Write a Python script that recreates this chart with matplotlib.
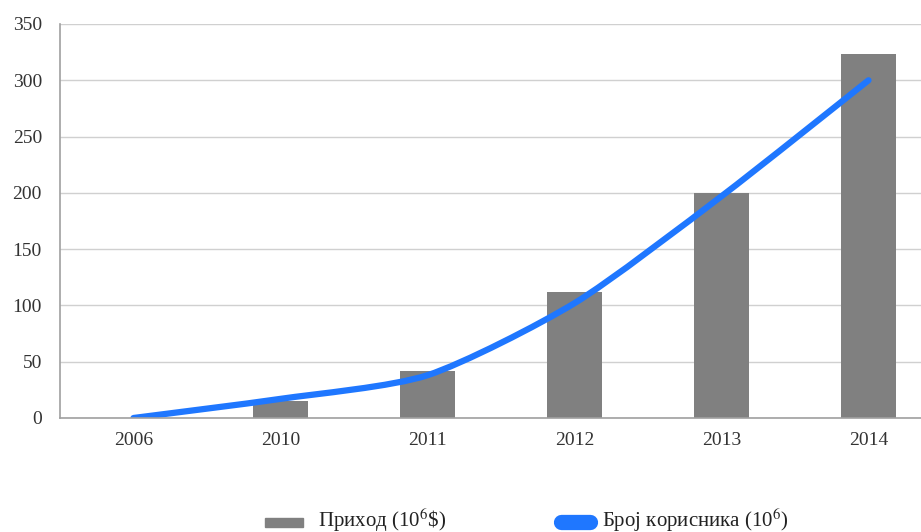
import numpy as np
import matplotlib.pyplot as plt
from matplotlib.path import Path
from matplotlib.patches import PathPatch, Rectangle
from matplotlib.lines import Line2D

plt.rcParams["font.family"] = ["Liberation Serif", "DejaVu Serif"]
plt.rcParams["mathtext.fontset"] = "stix"

# ─── Data ─────────────────────────────────────────────────────────────────────
years   = ["2006", "2010", "2011", "2012", "2013", "2014"]
revenue = [0, 15, 42, 112, 200, 323]      # Приход (10^6 $)
users   = [0, 17, 38, 102, 197, 300]      # Број корисника (10^6)

BAR_COLOR  = "#808080"
LINE_COLOR = "#1f77ff"
TEXT_COLOR = "#333333"

fig = plt.figure(figsize=(9.21, 5.32), dpi=100)
ax  = fig.add_axes([60 / 921, 114 / 532, 882 / 921, 394 / 532])

x = np.arange(len(years))
ax.bar(x, revenue, width=0.37, color=BAR_COLOR, zorder=2)

# smooth curve through the user counts (cubic Bezier, Catmull-Rom tangents)
pts = np.column_stack([x, users]).astype(float)
verts, codes = [pts[0]], [Path.MOVETO]
for i in range(len(pts) - 1):
    p0 = pts[max(i - 1, 0)]
    p1, p2 = pts[i], pts[i + 1]
    p3 = pts[min(i + 2, len(pts) - 1)]
    t = 0.12
    c1 = p1 + (p2 - p0) * t
    c2 = p2 - (p3 - p1) * t
    verts += [c1, c2, p2]
    codes += [Path.CURVE4] * 3
curve = PathPatch(Path(verts, codes), facecolor="none", edgecolor=LINE_COLOR,
                  lw=4.5, capstyle="round", joinstyle="round", zorder=3)
ax.add_patch(curve)

ax.set_xlim(-0.5, len(years) - 0.5)
ax.set_ylim(0, 350)
ax.set_yticks(range(0, 351, 50))
ax.set_xticks(x)
ax.set_xticklabels(years)
ax.tick_params(length=0, labelsize=14, colors=TEXT_COLOR)
ax.tick_params(axis="x", pad=10)
ax.tick_params(axis="y", pad=13)
ax.grid(axis="y", color="#d0d0d0", lw=1, zorder=0)
for side in ["top", "right"]:
    ax.spines[side].set_visible(False)
for side in ["left", "bottom"]:
    ax.spines[side].set_color("#a0a0a0")
    ax.spines[side].set_linewidth(1.2)
ax.spines["bottom"].set_zorder(4)

# ─── Legend ───────────────────────────────────────────────────────────────────
W, H = 921, 532
fig.patches.append(Rectangle((265 / W, 1 - 527 / H), 38 / W, 9 / H,
                             transform=fig.transFigure, color=BAR_COLOR))
fig.text(318 / W, 1 - 520 / H, r"Приход (10$^6$\$)", fontsize=15,
         va="center", ha="left", color="#222222")
fig.lines.append(Line2D([561 / W, 590 / W], [1 - 522 / H, 1 - 522 / H],
                        transform=fig.transFigure, color=LINE_COLOR,
                        lw=11, solid_capstyle="round"))
fig.text(602 / W, 1 - 520 / H, r"Број корисника (10$^6$)", fontsize=15,
         va="center", ha="left", color="#222222")

plt.savefig("out.png", dpi=100)
